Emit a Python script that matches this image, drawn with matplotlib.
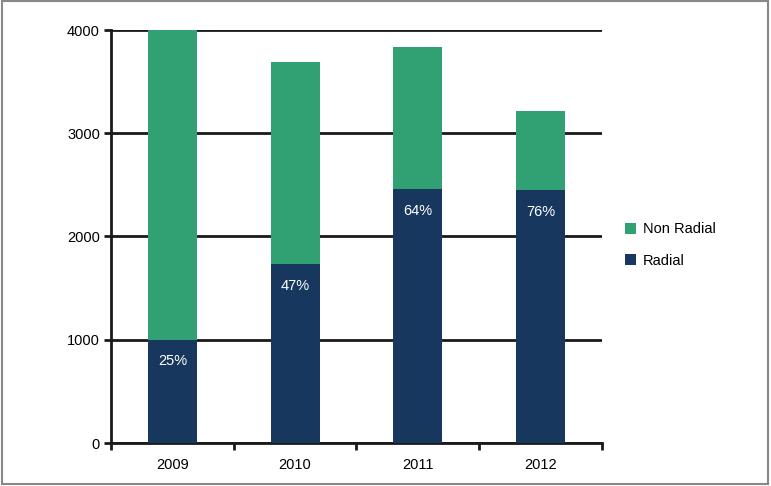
import matplotlib.pyplot as plt
from matplotlib.patches import Rectangle

plt.rcParams['font.family'] = ['Liberation Sans', 'DejaVu Sans']

# Данные
years = ['2009', '2010', '2011', '2012']
radial = [1000, 1735, 2460, 2450]
non_radial = [3000, 1955, 1380, 770]
pct_labels = ['25%', '47%', '64%', '76%']

green = '#31a072'
navy = '#17375e'

fig = plt.figure(figsize=(7.71, 4.86), dpi=100)
ax = fig.add_axes([111 / 771, 43 / 486, 491 / 771, 413 / 486])

x = list(range(len(years)))
ax.bar(x, radial, width=0.4, color=navy, label='Radial', zorder=3)
ax.bar(x, non_radial, width=0.4, bottom=radial, color=green, label='Non Radial', zorder=3)

for xi, r, p in zip(x, radial, pct_labels):
    ax.text(xi, r - 210, p, ha='center', va='center', color='white', fontsize=10.5, zorder=4)

ax.set_xlim(-0.5, 3.5)
ax.set_ylim(0, 4000)
ax.set_yticks([0, 1000, 2000, 3000, 4000])
ax.yaxis.grid(True, color='#1a1a1a', linewidth=2, zorder=1)
ax.set_axisbelow(True)

# тики по оси x - на границах категорий, подписи - по центру
ax.set_xticks([-0.5, 0.5, 1.5, 2.5, 3.5])
ax.set_xticklabels([])
ax.set_xticks(x, minor=True)
ax.set_xticklabels(years, minor=True)
ax.tick_params(axis='x', which='minor', length=0, pad=11, labelsize=10.5)
ax.tick_params(axis='x', which='major', length=5, width=2, color='#1a1a1a')
ax.tick_params(axis='y', length=5, width=2, color='#1a1a1a', labelsize=10.5, pad=3)

for s in ['top', 'right']:
    ax.spines[s].set_visible(False)
for s in ['left', 'bottom']:
    ax.spines[s].set_linewidth(2)
    ax.spines[s].set_color('#1a1a1a')

handles, labels = ax.get_legend_handles_labels()
ax.legend(handles[::-1], labels[::-1], loc='center left', bbox_to_anchor=(1.02, 0.479),
          frameon=False, fontsize=10.5, handlelength=0.75, handleheight=0.75,
          handletextpad=0.5, labelspacing=1.2)

fig.patches.append(Rectangle((0.002, 0.004), 0.994, 0.994, transform=fig.transFigure,
                             fill=False, edgecolor='#888888', linewidth=1.5))

fig.savefig('out.png', dpi=100)
